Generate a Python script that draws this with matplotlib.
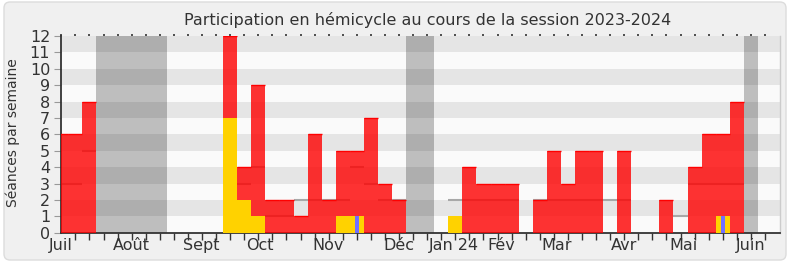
import numpy as np
import matplotlib
matplotlib.use("Agg")
import matplotlib.pyplot as plt
from matplotlib.patches import FancyBboxPatch
from matplotlib.transforms import IdentityTransform

# une valeur par semaine, de juillet 2023 a juin 2024
weeks = np.arange(51)
presences = [6, 6, 8, 0, 0, 0, 0, 0, 0, 0, 0, 0, 12, 4, 9, 2, 2, 1, 6, 2, 5, 5, 7, 3, 2,
             0, 0, 0, 0, 4, 3, 3, 3, 0, 2, 5, 3, 5, 5, 0, 5, 0, 0, 2, 0, 4, 6, 6, 8, 0, 0]
interventions = [0, 0, 0, 0, 0, 0, 0, 0, 0, 0, 0, 0, 7, 2, 1, 0, 0, 0, 0, 0, 1, 1, 0, 0, 0,
                 0, 0, 0, 1, 0, 0, 0, 0, 0, 0, 0, 0, 0, 0, 0, 0, 0, 0, 0, 0, 0, 0, 1, 0, 0, 0]
questions = [0, 0, 0, 0, 0, 0, 0, 0, 0, 0, 0, 0, 0, 0, 0, 0, 0, 0, 0, 0, 0, 1, 0, 0, 0,
             0, 0, 0, 0, 0, 0, 0, 0, 0, 0, 0, 0, 0, 0, 0, 0, 0, 0, 0, 0, 0, 0, 1, 0, 0, 0]
mediane = [3, 3, 5, 0, 0, 0, 0, 0, 0, 0, 0, 0, 5, 3, 4, 1, 1, 2, 2, 2, 2, 4, 3, 2, 2,
           0, 0, 0, 2, 2, 2, 2, 2, 0, 2, 2, 2, 2, 2, 2, 2, 0, 0, 0, 1, 3, 3, 3, 3, 0, 0]
vacances = [(3, 7), (25, 26), (49, 49)]
mois = ["Juil", "Août", "Sept", "Oct", "Nov", "Déc", "Jan 24", "Fév", "Mar", "Avr", "Mai", "Juin"]
mois_pos = [0, 4.95, 9.95, 14.14, 18.97, 23.97, 27.93, 31.24, 35.19, 39.97, 44.24, 48.99]

presences = np.array(presences, dtype=float)
mediane = np.array(mediane, dtype=float)

TXT = '#333333'

fig = plt.figure(figsize=(7.9, 2.67), dpi=100)
fig.patch.set_facecolor('white')

# cadre arrondi (derriere les axes)
frame = FancyBboxPatch((4, 7), 782, 258, boxstyle="round,pad=0,rounding_size=6",
                       transform=IdentityTransform(), fc='#f0f0f0', ec='#dcdcdc', lw=1,
                       zorder=-10)
fig.patches.append(frame)

ax = fig.add_axes([61.3 / 790, 1 - 232.7 / 267, (780 - 61.3) / 790, (232.7 - 36) / 267])
ax.set_facecolor('#fafafa')

# bandes horizontales
for k in range(1, 12, 2):
    ax.axhspan(k, k + 1, color='#e5e5e5', lw=0, zorder=0)

# vacances parlementaires
for a, b in vacances:
    ax.axvspan(a - 0.5, b + 0.5, color='black', alpha=0.24, lw=0, zorder=1)

# mediane des deputes
m = mediane > 0
ax.hlines(mediane[m], weeks[m] - 0.5, weeks[m] + 0.5, color='#a8a8a8', lw=1.5, zorder=2)

ax.bar(weeks, presences, width=1, color='red', alpha=0.8, lw=0, zorder=3)
p = presences > 0
ax.hlines(presences[p], weeks[p] - 0.5, weeks[p] + 0.5, color='red', lw=1, zorder=3.5)
ax.bar(weeks, interventions, width=1, color='#ffd200', lw=0, zorder=4)
ax.bar(weeks, questions, width=0.3, color='#7070ff', lw=0, zorder=5)

ax.set_xlim(0, 51.07)
ax.set_ylim(0, 12)

for s in ['left', 'bottom']:
    ax.spines[s].set_color(TXT)
    ax.spines[s].set_linewidth(1.3)
ax.spines['top'].set_visible(False)
ax.spines['right'].set_color('#cccccc')
ax.spines['right'].set_linewidth(1)

ax.set_yticks(range(13))
ax.tick_params(axis='y', length=5, color='#999999', labelcolor=TXT, labelsize=11.5, pad=3)
ax.set_xticks(mois_pos)
ax.set_xticklabels(mois)
ax.tick_params(axis='x', which='major', length=0, labelcolor=TXT, labelsize=11.5, pad=4)
ax.set_xticks(weeks, minor=True)
ax.tick_params(axis='x', which='minor', bottom=True, top=False, length=5, color=TXT, width=1)

# petits points en haut, une marque par semaine
top = ax.secondary_xaxis('top')
top.spines['top'].set_visible(False)
top.set_xticks(weeks)
top.tick_params(length=1.5, width=1.2, color=TXT, labeltop=False)

fig.text(427.5 / 790, 1 - 20 / 267, "Participation en hémicycle au cours de la session 2023-2024",
         ha='center', va='center', fontsize=11.5, color=TXT)
fig.text(12.5 / 790, 0.504, "Séances par semaine", rotation=90, ha='center', va='center',
         fontsize=10, color=TXT)

fig.savefig('out.png', dpi=100, facecolor=fig.get_facecolor())
